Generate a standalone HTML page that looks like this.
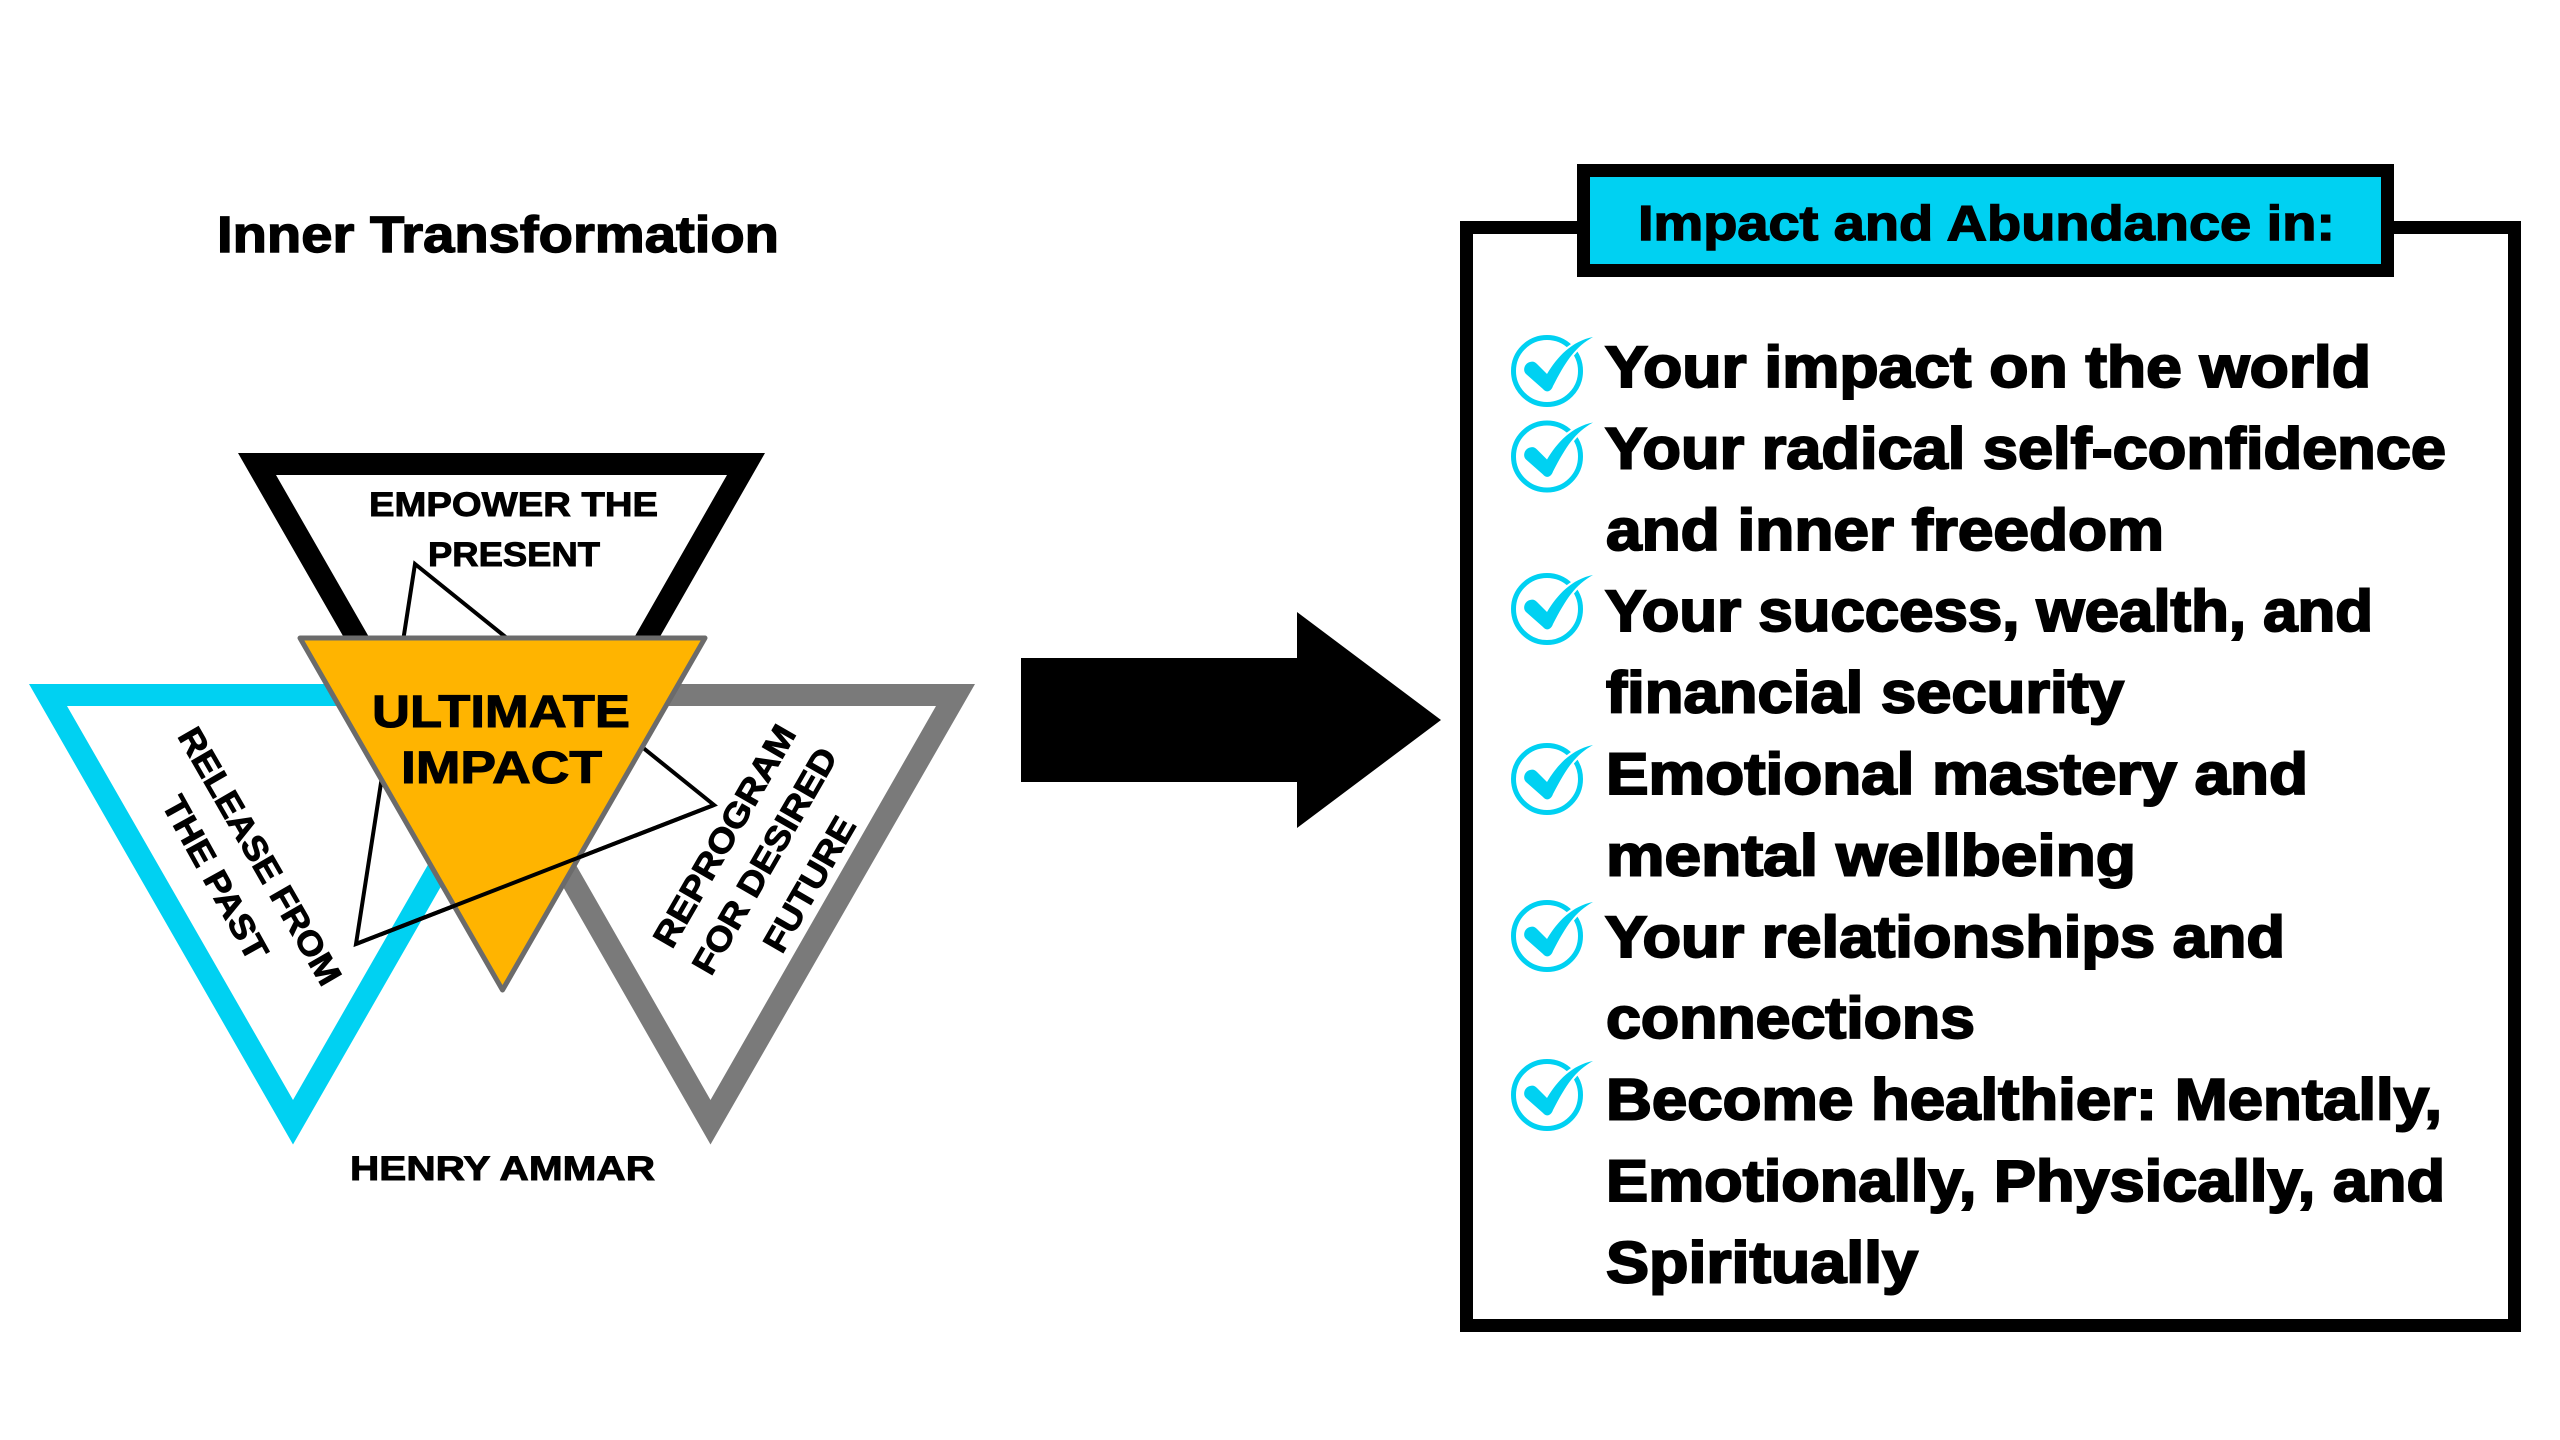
<!DOCTYPE html>
<html>
<head>
<meta charset="utf-8">
<style>
html,body{margin:0;padding:0;background:#fff;width:2560px;height:1440px;overflow:hidden}
svg{display:block}
text{font-family:"Liberation Sans",sans-serif;font-weight:700;fill:#000}
.l{font-size:58px;stroke:#000;stroke-width:2px}
.s{font-size:34px;stroke:#000;stroke-width:.9px}
</style>
</head>
<body>
<svg width="2560" height="1440" viewBox="0 0 2560 1440" xmlns="http://www.w3.org/2000/svg">
<defs>
<g id="chk">
<circle cx="0" cy="0" r="33.5" fill="none" stroke="#00D1F2" stroke-width="5"/>
<path d="M46,-34 C28,-24 19,-10 6,15 C4,21 -1,22 -4,18 L-21,3 C-25,-1 -22,-8 -17,-9 C-14,-10 -12,-9 -10,-7 L0,3 C10,-14 25,-30 46,-34Z" fill="#00D1F2" stroke="#fff" stroke-width="4" paint-order="stroke"/>
</g>
</defs>
<rect width="2560" height="1440" fill="#fff"/>

<text x="217" y="252" font-size="51" textLength="562" lengthAdjust="spacingAndGlyphs" stroke="#000" stroke-width="1.4">Inner Transformation</text>

<!-- triangles -->
<path fill-rule="evenodd" fill="#000" d="M238,453 H765 L502,913 Z M276,475 L502,869 L727,475 Z"/>
<path fill-rule="evenodd" fill="#00D1F2" d="M29,684 H557 L293,1144.5 Z M67,706 L293,1100 L519,706 Z"/>
<path fill-rule="evenodd" fill="#7A7A7A" d="M447,684 H975 L710.5,1144.5 Z M485,706 L710.5,1100 L936,706 Z"/>
<polygon points="415,564 714,805 356,944" fill="none" stroke="#000" stroke-width="4"/>
<polygon points="300,638 705,638 502.5,990" fill="#FFB400" stroke="#6b6b6b" stroke-width="5" stroke-linejoin="round"/>
<line x1="356" y1="944" x2="714" y2="805" stroke="#000" stroke-width="4"/>

<text class="s" x="369" y="516" textLength="289" lengthAdjust="spacingAndGlyphs">EMPOWER THE</text>
<text class="s" x="428" y="566" textLength="172" lengthAdjust="spacingAndGlyphs">PRESENT</text>
<text x="372" y="727" font-size="45" textLength="258" lengthAdjust="spacingAndGlyphs" stroke="#000" stroke-width="1">ULTIMATE</text>
<text x="401" y="783" font-size="45" textLength="201" lengthAdjust="spacingAndGlyphs" stroke="#000" stroke-width="1">IMPACT</text>
<text class="s" x="350" y="1180" textLength="305" lengthAdjust="spacingAndGlyphs">HENRY AMMAR</text>

<text class="s" transform="translate(177,736) rotate(60)" textLength="291" lengthAdjust="spacingAndGlyphs">RELEASE FROM</text>
<text class="s" transform="translate(161,804) rotate(61)" textLength="182" lengthAdjust="spacingAndGlyphs">THE PAST</text>
<text class="s" transform="translate(672,950) rotate(-60)" textLength="250" lengthAdjust="spacingAndGlyphs">REPROGRAM</text>
<text class="s" transform="translate(711,977) rotate(-60)" textLength="255" lengthAdjust="spacingAndGlyphs">FOR DESIRED</text>
<text class="s" transform="translate(782,955) rotate(-60)" textLength="150" lengthAdjust="spacingAndGlyphs">FUTURE</text>

<!-- arrow -->
<polygon points="1021,658 1297,658 1297,612 1441,720 1297,828 1297,782 1021,782" fill="#000"/>

<!-- panel -->
<rect x="1466.5" y="227.5" width="1048" height="1098" fill="#fff" stroke="#000" stroke-width="13"/>
<rect x="1583.5" y="170.5" width="804" height="100" fill="#00D1F2" stroke="#000" stroke-width="13"/>
<text x="1638" y="240" font-size="49" textLength="697" lengthAdjust="spacingAndGlyphs" stroke="#000" stroke-width="1.4">Impact and Abundance in:</text>

<use href="#chk" x="1547" y="371"/>
<use href="#chk" x="1547" y="456.5"/>
<use href="#chk" x="1547" y="609"/>
<use href="#chk" x="1547" y="779"/>
<use href="#chk" x="1547" y="936"/>
<use href="#chk" x="1547" y="1095"/>

<text class="l" x="1605" y="387" textLength="766" lengthAdjust="spacingAndGlyphs">Your impact on the world</text>
<text class="l" x="1605" y="468.4" textLength="841" lengthAdjust="spacingAndGlyphs">Your radical self-confidence</text>
<text class="l" x="1606" y="549.8" textLength="558" lengthAdjust="spacingAndGlyphs">and inner freedom</text>
<text class="l" x="1605" y="631.2" textLength="768" lengthAdjust="spacingAndGlyphs">Your success, wealth, and</text>
<text class="l" x="1606" y="712.6" textLength="518" lengthAdjust="spacingAndGlyphs">financial security</text>
<text class="l" x="1606" y="794" textLength="702" lengthAdjust="spacingAndGlyphs">Emotional mastery and</text>
<text class="l" x="1606" y="875.4" textLength="530" lengthAdjust="spacingAndGlyphs">mental wellbeing</text>
<text class="l" x="1605" y="956.8" textLength="680" lengthAdjust="spacingAndGlyphs">Your relationships and</text>
<text class="l" x="1606" y="1038.2" textLength="369" lengthAdjust="spacingAndGlyphs">connections</text>
<text class="l" x="1606" y="1119.6" textLength="836" lengthAdjust="spacingAndGlyphs">Become healthier: Mentally,</text>
<text class="l" x="1606" y="1201" textLength="839" lengthAdjust="spacingAndGlyphs">Emotionally, Physically, and</text>
<text class="l" x="1606" y="1282.4" textLength="312" lengthAdjust="spacingAndGlyphs">Spiritually</text>
</svg>
</body>
</html>
